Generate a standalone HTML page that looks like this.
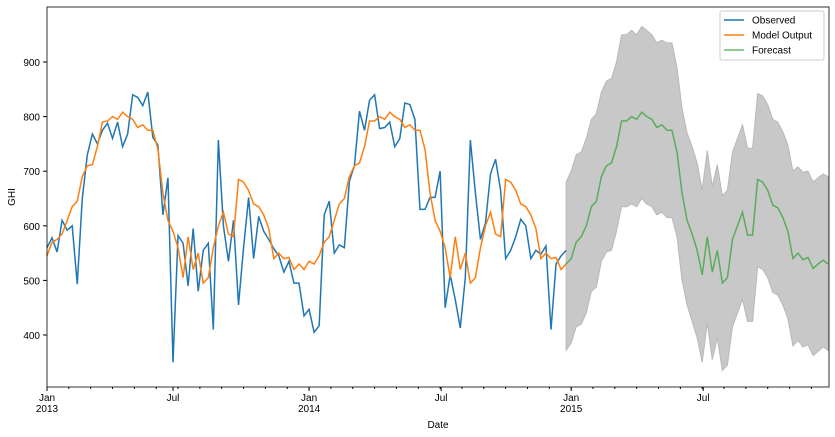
<!DOCTYPE html>
<html><head><meta charset="utf-8">
<style>body{margin:0;background:#fff}svg{display:block;font-family:"Liberation Sans",sans-serif}</style>
</head><body>
<svg id="chart" width="835" height="437"></svg>
<script>
const observed=[560,578,552,610,592,600,493,650,730,768,750,775,788,760,790,745,768,840,835,820,845,762,748,620,688,350,582,568,490,595,480,555,568,410,757,600,535,610,455,560,652,540,617,590,575,558,545,515,535,495,495,435,447,405,417,620,645,550,565,560,682,710,810,775,830,840,778,780,790,745,760,825,822,795,630,630,652,652,700,450,510,465,413,505,757,660,575,605,695,722,665,540,555,580,612,600,540,555,548,563,410,530,545,555];
const model=[545,570,575,585,610,635,645,690,710,712,745,790,792,800,795,808,800,795,780,785,775,775,740,660,610,590,560,505,580,520,550,495,505,560,600,625,585,580,685,680,665,640,635,620,595,540,550,540,542,520,530,520,535,530,545,570,580,610,640,650,690,710,715,745,792,792,800,795,808,800,795,780,785,775,775,740,660,610,590,560,505,580,520,550,495,505,560,600,625,585,580,685,680,665,640,635,620,595,540,550,540,542,520,530];
const forecast=[530,540,570,580,600,635,645,690,710,715,745,792,792,800,795,808,800,795,780,785,775,775,735,660,610,585,555,510,580,515,555,495,505,575,600,625,583,583,685,680,665,638,633,615,590,540,550,538,542,522,530,537,530];
const upper=[680,700,730,735,760,795,805,845,865,870,900,950,950,958,950,965,958,950,935,940,935,935,890,815,770,745,715,665,738,672,712,655,665,735,760,785,742,742,842,838,822,795,790,772,748,700,708,698,700,680,688,695,690];
const lower=[372,385,415,420,440,480,488,535,552,555,590,635,635,640,635,650,640,635,620,625,615,615,580,500,455,425,395,350,422,355,395,335,345,415,440,465,425,425,525,520,505,478,473,455,430,380,390,378,382,362,370,378,372];
const yTicks=[400,500,600,700,800,900];
const xMajor=[{w:0,l:["Jan","2013"]},{w:25,l:["Jul"]},{w:52,l:["Jan","2014"]},{w:78.2,l:["Jul"]},{w:104,l:["Jan","2015"]},{w:130.2,l:["Jul"]}];
const forecastStart=103;

const L=47,R=829,T=7,B=387;
const X=w=>L+w*5.04;
const Y=v=>62+(900-v)*0.546;
const svg=document.getElementById('chart');
const NS='http://www.w3.org/2000/svg';
function mk(t,a,p){const e=document.createElementNS(NS,t);for(const k in a)e.setAttribute(k,a[k]);(p||svg).appendChild(e);return e;}

let d='';
upper.forEach((v,i)=>{d+=(i?'L':'M')+X(forecastStart+i)+','+Y(v);});
for(let i=lower.length-1;i>=0;i--)d+='L'+X(forecastStart+i)+','+Y(lower[i]);
const band=mk('path',{d:d+'Z',fill:'#c8c8c8',stroke:'#b8b8b8','stroke-width':1});



function line(arr,start,color,name,op){
  const p=mk('polyline',{points:arr.map((v,i)=>X(start+i)+','+Y(v)).join(' '),fill:'none',stroke:color,'stroke-width':1.5,'stroke-opacity':op});
  
  
}
line(observed,0,'#1f77b4','observed-line',1);
line(model,0,'#ff7f0e','model-output-line',1);
line(forecast,forecastStart,'#2ca02c','forecast-line',0.7);

const fr=mk('rect',{x:L,y:T,width:R-L,height:B-T,fill:'none',stroke:'#000','stroke-width':0.8});



yTicks.forEach(v=>{
  mk('line',{x1:L-4,x2:L,y1:Y(v),y2:Y(v),stroke:'#000'});
  const t=mk('text',{x:L-7,y:Y(v)+4,'text-anchor':'end','font-size':10});
  t.textContent=v;
  
  
});
for(let m=0;m<36;m++){const w=m*52/12;const x=X(w);if(x>R)break;mk('line',{x1:x,x2:x,y1:B,y2:B+2,stroke:'#000'});}
xMajor.forEach(o=>{
  const x=X(o.w);
  mk('line',{x1:x,x2:x,y1:B,y2:B+4,stroke:'#000'});
  o.l.forEach((s,i)=>{
    const t=mk('text',{x:x,y:B+14+i*11,'text-anchor':'middle','font-size':10});
    t.textContent=s;
    
    
  });
});
const xt=mk('text',{x:438,y:428,'text-anchor':'middle','font-size':10});xt.textContent='Date';


const yt=mk('text',{x:15,y:197,'text-anchor':'middle','font-size':10,transform:'rotate(-90 15 197)'});yt.textContent='GHI';



const lg=mk('g',{});


mk('rect',{x:720,y:11,width:104,height:49,fill:'#fff','fill-opacity':0.85,stroke:'#ccc',rx:2},lg);
[['Observed','#1f77b4',1],['Model Output','#ff7f0e',1],['Forecast','#2ca02c',0.7]].forEach((e,i)=>{
  const y=20+i*15;
  const g=mk('g',{},lg);
  
  
  mk('line',{x1:724,x2:744,y1:y,y2:y,stroke:e[1],'stroke-width':1.5,'stroke-opacity':e[2]},g);
  const t=mk('text',{x:752,y:y+3.5,'font-size':10},g);t.textContent=e[0];
});
</script>
</body></html>
